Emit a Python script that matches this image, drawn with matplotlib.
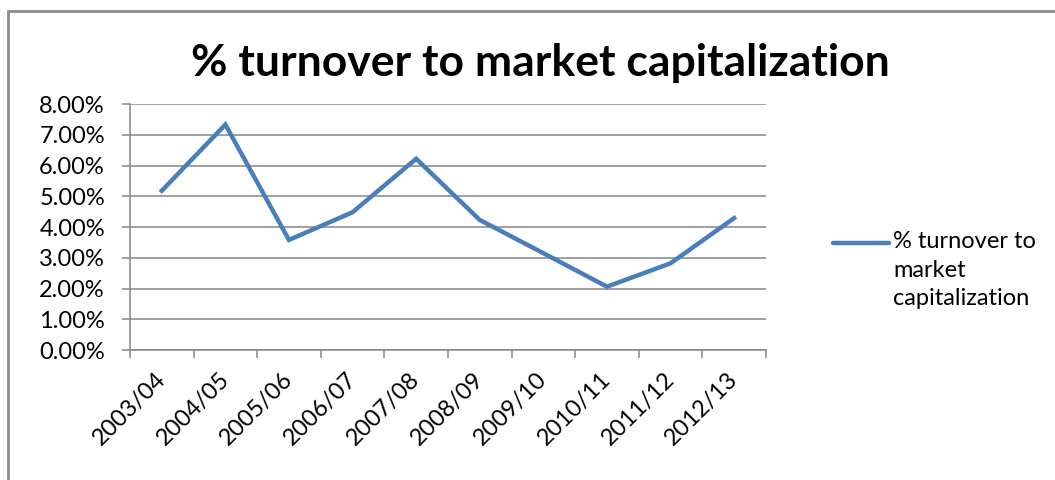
import matplotlib.pyplot as plt
from matplotlib.lines import Line2D
from matplotlib.patches import Rectangle
from matplotlib.ticker import FixedLocator, PercentFormatter
from matplotlib.transforms import ScaledTranslation

plt.rcParams['font.family'] = ['Lato', 'DejaVu Sans']

# Turnover as a share of market capitalization, per financial year
years = ['2003/04', '2004/05', '2005/06', '2006/07', '2007/08',
         '2008/09', '2009/10', '2010/11', '2011/12', '2012/13']
turnover_pct = [5.18, 7.33, 3.58, 4.48, 6.22, 4.23, 3.15, 2.06, 2.82, 4.29]

series_label = '% turnover to\nmarket\ncapitalization'
line_color = '#4A7EBB'
grid_color = '#868686'
label_size = 17

fig = plt.figure(figsize=(10.55, 4.8), dpi=100)
ax = fig.add_axes([0.1232, 0.2708, 0.6028, 0.5125])

# chart frame, open on the right and bottom
fig.patches.append(Rectangle((8 / 1055, -0.2), 1.2, 1.2 - 11 / 480,
                             transform=fig.transFigure, fill=False,
                             edgecolor='#8c8c8c', linewidth=2))

x = list(range(len(years)))
ax.plot(x, turnover_pct, color=line_color, linewidth=3.2,
        solid_joinstyle='miter')

ax.set_xlim(-0.5, len(years) - 0.5)
ax.set_ylim(0, 8)
ax.set_yticks([i for i in range(9)])
ax.yaxis.set_major_formatter(PercentFormatter(decimals=2))
ax.grid(axis='y', color=grid_color, linewidth=1.1)
ax.set_axisbelow(True)

# category ticks sit between years, labels at the centres
ax.xaxis.set_major_locator(FixedLocator([i - 0.5 for i in range(len(years) + 1)]))
ax.xaxis.set_minor_locator(FixedLocator(x))
ax.set_xticklabels([], minor=False)
ax.set_xticklabels(years, minor=True, rotation=45, ha='right',
                   rotation_mode='anchor', fontsize=label_size)
ax.tick_params(axis='x', which='major', length=6, color=grid_color, width=1.1)
ax.tick_params(axis='x', which='minor', length=0, pad=10)
ax.tick_params(axis='y', length=6, color=grid_color, width=1.1,
               labelsize=label_size, pad=12)

nudge = ScaledTranslation(-7 / 100, -5 / 100, fig.dpi_scale_trans)
for lbl in ax.get_xticklabels(minor=True):
    lbl.set_transform(lbl.get_transform() + nudge)

for side in ('top', 'right'):
    ax.spines[side].set_visible(False)
for side in ('left', 'bottom'):
    ax.spines[side].set_color(grid_color)
    ax.spines[side].set_linewidth(1.1)

fig.suptitle('% turnover to market capitalization', x=0.512, y=0.91,
             fontsize=32, fontweight='bold')

# legend key: short line beside a three-line label
fig.add_artist(Line2D([833 / 1055, 889 / 1055], [1 - 243 / 480, 1 - 243 / 480],
                      color=line_color, linewidth=3.2,
                      solid_capstyle='round'))
fig.text(893 / 1055, 1 - 231 / 480, series_label, ha='left', va='top',
         fontsize=label_size, linespacing=1.45)

fig.savefig('out.png', dpi=100)
